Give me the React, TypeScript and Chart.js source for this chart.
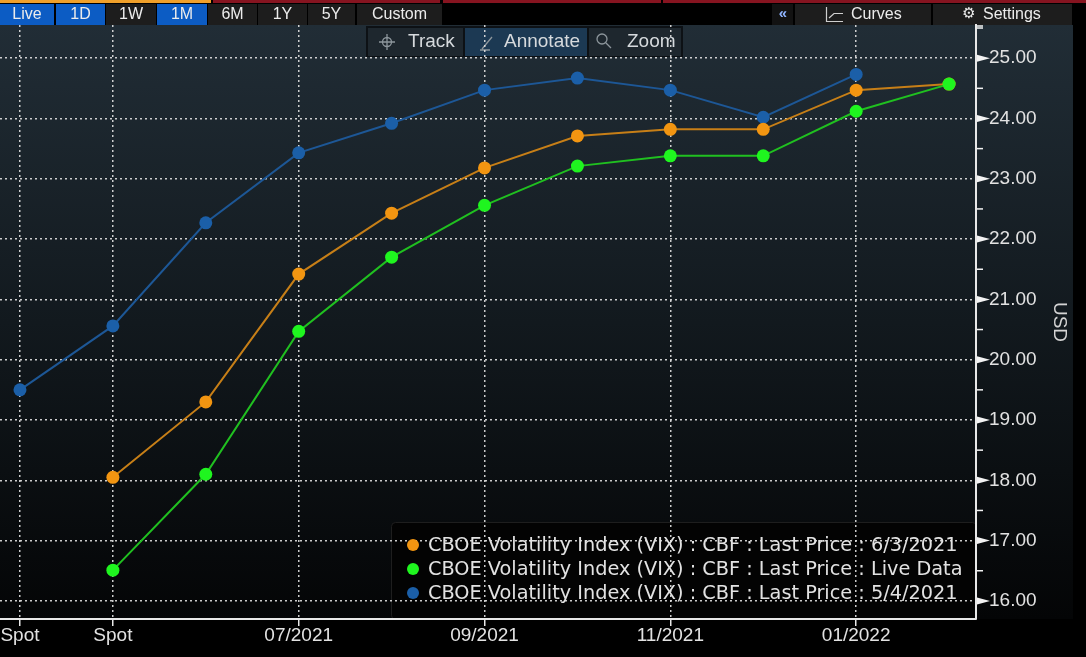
import React, { useEffect, useRef } from "react";
import { Chart, registerables } from "chart.js";

Chart.register(...registerables);

// ---------------- data ----------------
const slotLabels = ["Spot", "Spot", "06/2021", "07/2021", "08/2021", "09/2021", "10/2021", "11/2021", "12/2021", "01/2022", "02/2022"];
const labeledSlots = [0, 1, 3, 5, 7, 9];
const yTickValues = [16, 17, 18, 19, 20, 21, 22, 23, 24, 25];

const name0603 = "CBOE Volatility Index (VIX) : CBF : Last Price : 6/3/2021";
const nameLive = "CBOE Volatility Index (VIX) : CBF : Last Price : Live Data";
const name0504 = "CBOE Volatility Index (VIX) : CBF : Last Price : 5/4/2021";

const start0603 = 1;
const values0603 = [18.05, 19.3, 21.42, 22.43, 23.18, 23.71, 23.82, 23.82, 24.47, 24.57];
const startLive = 1;
const valuesLive = [16.51, 18.1, 20.47, 21.7, 22.56, 23.21, 23.38, 23.38, 24.12, 24.57];
const start0504 = 0;
const values0504 = [19.5, 20.56, 22.27, 23.43, 23.92, 24.47, 24.67, 24.47, 24.02, 24.73];

const rangeButtons = ["Live", "1D", "1W", "1M", "6M", "1Y", "5Y", "Custom"];
const activeRangeButtons = ["Live", "1D", "1M"];
const toolButtons = ["Track", "Annotate", "Zoom"];
const axisTitle = "USD";

// ---------------- styles ----------------
const ORANGE = { line: "#c77f17", dot: "#f29511" };
const GREEN = { line: "#20c020", dot: "#1ff51f" };
const BLUE = { line: "#1d5796", dot: "#1b5fa8" };
const TEXT = "#e2e2e2";
const FONT = "'Liberation Sans', Arial, sans-serif";
const LEGEND_FONT = "'DejaVu Sans', sans-serif";

const rangeButtonBoxes = [
  [0, 54], [56, 105], [106, 156], [157, 207], [208, 257], [258, 307], [308, 355], [357, 442],
];
const toolButtonBoxes = [
  [368, 463], [465, 587], [589, 681],
];

const pts = (start: number, vals: number[]) => vals.map((y, i) => ({ x: start + i, y }));

function drawChrome(chart: any) {
  const { ctx, width, height, chartArea } = chart;
  ctx.save();
  ctx.fillStyle = "#000";
  ctx.fillRect(0, 0, width, height);

  // plot panel gradient
  const g = ctx.createLinearGradient(0, chartArea.top, 0, chartArea.bottom);
  g.addColorStop(0, "#212d36");
  g.addColorStop(0.5, "#12191e");
  g.addColorStop(1, "#040506");
  ctx.fillStyle = g;
  ctx.fillRect(0, chartArea.top, 1073, chartArea.bottom - chartArea.top);

  // top colour strip
  ctx.fillStyle = "#f0a02a";
  ctx.fillRect(0, 0, 211, 3);
  ctx.fillStyle = "#861420";
  ctx.fillRect(213, 0, 227, 3);
  ctx.fillRect(443, 0, 218, 3);
  ctx.fillRect(663, 0, 423, 3);

  // range buttons
  ctx.font = `16px ${FONT}`;
  ctx.textAlign = "center";
  ctx.textBaseline = "middle";
  rangeButtons.forEach((label, i) => {
    const [x0, x1] = rangeButtonBoxes[i];
    ctx.fillStyle = activeRangeButtons.includes(label) ? "#0c5cc4" : "#1d1d1d";
    ctx.fillRect(x0, 4, x1 - x0, 21);
    ctx.fillStyle = "#ececec";
    ctx.fillText(label, (x0 + x1) / 2, 15);
  });

  // right buttons
  ctx.fillStyle = "#121212";
  ctx.fillRect(772, 4, 21, 21);
  ctx.fillStyle = "#1d1d1d";
  ctx.fillRect(795, 4, 136, 21);
  ctx.fillRect(933, 4, 139, 21);
  ctx.fillStyle = "#8fb4ff";
  ctx.font = `bold 15px ${FONT}`;
  ctx.fillText("«", 783, 14);
  ctx.fillStyle = "#ececec";
  ctx.font = `16px ${FONT}`;
  ctx.textAlign = "left";
  ctx.fillText("Curves", 851, 15);
  ctx.fillText("Settings", 983, 15);
  ctx.font = `15px 'DejaVu Sans', sans-serif`;
  ctx.textAlign = "center";
  ctx.fillText("⚙", 969, 14);
  // curves icon
  ctx.strokeStyle = "#cfcfcf";
  ctx.lineWidth = 1.2;
  ctx.beginPath();
  ctx.moveTo(826.5, 7);
  ctx.lineTo(826.5, 21.5);
  ctx.lineTo(843, 21.5);
  ctx.moveTo(829, 18);
  ctx.lineTo(834, 13.5);
  ctx.lineTo(843, 13.5);
  ctx.stroke();

  // track / annotate / zoom bar
  ctx.fillStyle = "#0d1115";
  ctx.fillRect(366, 26, 317, 31);
  toolButtons.forEach((label, i) => {
    const [x0, x1] = toolButtonBoxes[i];
    ctx.fillStyle = label === "Annotate" ? "#1c3953" : "#1e272e";
    ctx.fillRect(x0, 28, x1 - x0, 28);
  });
  ctx.font = `19px ${FONT}`;
  ctx.textAlign = "left";
  ctx.fillStyle = "#d6dadd";
  ctx.fillText("Track", 408, 42);
  ctx.fillText("Annotate", 504, 42);
  ctx.fillText("Zoom", 627, 42);
  ctx.strokeStyle = "#8d969c";
  ctx.lineWidth = 1.3;
  // crosshair
  ctx.beginPath();
  ctx.arc(387, 42, 4.5, 0, Math.PI * 2);
  ctx.moveTo(379, 42); ctx.lineTo(395, 42);
  ctx.moveTo(387, 34); ctx.lineTo(387, 50);
  ctx.stroke();
  // pencil
  ctx.beginPath();
  ctx.moveTo(482, 49); ctx.lineTo(492, 37);
  ctx.moveTo(480, 50); ctx.lineTo(490, 50);
  ctx.stroke();
  // magnifier
  ctx.beginPath();
  ctx.arc(602, 39, 5, 0, Math.PI * 2);
  ctx.moveTo(606, 43); ctx.lineTo(611, 48);
  ctx.stroke();

  // legend box
  ctx.fillStyle = "#030303";
  ctx.strokeStyle = "#1e1e1e";
  ctx.lineWidth = 1;
  ctx.beginPath();
  (ctx as any).roundRect(391.5, 522.5, 585, 97, 4);
  ctx.fill();
  ctx.stroke();
  ctx.restore();
}

function drawOverlay(chart: any) {
  const { ctx, chartArea, scales } = chart;
  const y = scales.y;
  const ax = chartArea.right + 1;
  ctx.save();
  ctx.fillStyle = "#f2f2f2";
  ctx.strokeStyle = "#f2f2f2";
  ctx.lineWidth = 1.5;
  yTickValues.forEach((v) => {
    const py = y.getPixelForValue(v);
    ctx.beginPath();
    ctx.moveTo(ax, py - 3.5);
    ctx.lineTo(ax, py + 3.5);
    ctx.lineTo(ax + 13, py);
    ctx.closePath();
    ctx.fill();
    const m = y.getPixelForValue(v + 0.5);
    if (m > chartArea.top) {
      ctx.beginPath();
      ctx.moveTo(ax, m);
      ctx.lineTo(ax + 6, m);
      ctx.stroke();
    }
  });
  ctx.beginPath();
  ctx.moveTo(ax, chartArea.top + 1);
  ctx.lineTo(ax + 6, chartArea.top + 1);
  ctx.stroke();

  // legend entries
  const entries = [
    { name: name0603, c: ORANGE.dot },
    { name: nameLive, c: GREEN.dot },
    { name: name0504, c: BLUE.dot },
  ];
  ctx.font = `19.3px ${LEGEND_FONT}`;
  ctx.textAlign = "left";
  ctx.textBaseline = "middle";
  entries.forEach((e, i) => {
    const cy = 545 + i * 24;
    ctx.fillStyle = e.c;
    ctx.beginPath();
    ctx.arc(413, cy, 6, 0, Math.PI * 2);
    ctx.fill();
    ctx.fillStyle = TEXT;
    ctx.fillText(e.name, 428, cy + 1);
  });
  ctx.restore();
}

const chromePlugin = {
  id: "bbgChrome",
  beforeDraw: drawChrome,
  afterDraw: drawOverlay,
};

export default function App() {
  const ref = useRef<HTMLCanvasElement>(null);
  useEffect(() => {
    document.body.style.margin = "0";
    document.body.style.background = "#000";
    const mk = (label: string, data: any[], col: { line: string; dot: string }) => ({
      label,
      data,
      borderColor: col.line,
      backgroundColor: col.dot,
      pointBackgroundColor: col.dot,
      pointBorderWidth: 0,
      pointRadius: 6.5,
      borderWidth: 2,
      tension: 0,
      fill: false,
    });
    const chart = new Chart(ref.current as HTMLCanvasElement, {
      type: "line",
      data: {
        datasets: [
          mk(nameLive, pts(startLive, valuesLive), GREEN),
          mk(name0603, pts(start0603, values0603), ORANGE),
          mk(name0504, pts(start0504, values0504), BLUE),
        ],
      },
      options: {
        responsive: false,
        animation: false,
        layout: { autoPadding: false, padding: { top: 25, left: 0, right: 0, bottom: 0 } },
        plugins: { legend: { display: false }, tooltip: { enabled: false } },
        scales: {
          x: {
            type: "linear",
            min: -0.215,
            max: 10.29,
            afterBuildTicks: (s: any) => {
              s.ticks = labeledSlots.map((v) => ({ value: v }));
            },
            afterFit: (s: any) => {
              s.height = 38;
              s.paddingLeft = 0;
              s.paddingRight = 0;
            },
            ticks: {
              callback: (v: any) => slotLabels[v as number],
              color: TEXT,
              font: { family: FONT, size: 19 },
              maxRotation: 0,
              autoSkip: false,
              padding: -2,
            },
            grid: {
              color: "rgba(225,225,225,0.9)",
              lineWidth: 1.5,
              drawTicks: true,
              tickLength: 7,
              tickColor: "#e8e8e8",
              tickWidth: 1.5,
              tickBorderDash: [],
            },
            border: { display: true, color: "#e8e8e8", width: 2, dash: [2, 3] },
          },
          y: {
            type: "linear",
            position: "right",
            min: 15.7,
            max: 25.55,
            afterBuildTicks: (s: any) => {
              s.ticks = yTickValues.map((v) => ({ value: v }));
            },
            afterFit: (s: any) => {
              s.width = 110;
              s.paddingTop = 0;
              s.paddingBottom = 0;
            },
            ticks: {
              callback: (v: any) => Number(v).toFixed(2),
              color: TEXT,
              font: { family: FONT, size: 19 },
              padding: 13,
            },
            grid: {
              color: "rgba(225,225,225,0.9)",
              lineWidth: 1.5,
              drawTicks: false,
            },
            border: { display: true, color: "#e8e8e8", width: 2, dash: [2, 3] },
            title: {
              display: true,
              text: axisTitle,
              color: "#d4d4d4",
              font: { family: FONT, size: 19 },
              padding: { top: 15, bottom: 0 },
            },
          },
        },
      },
      plugins: [chromePlugin],
    } as any);
    return () => chart.destroy();
  }, []);
  return (
    <div style={{ position: "relative", width: 1086, height: 657, background: "#000" }}>
      <canvas ref={ref} width={1086} height={657} style={{ display: "block" }} />
    </div>
  );
}
